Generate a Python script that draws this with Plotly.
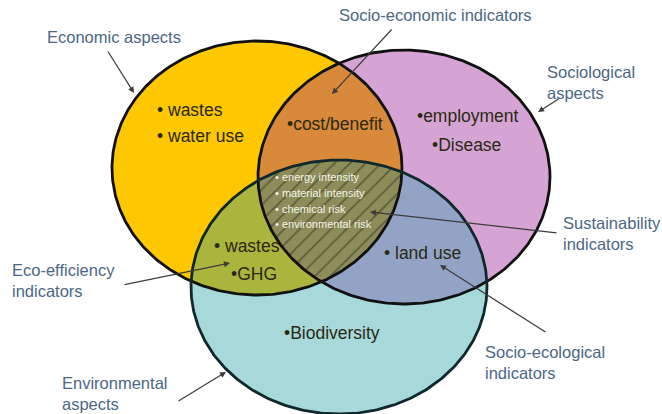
import numpy as np
import plotly.graph_objects as go

# ---- data ----
set_names = ["Economic aspects", "Sociological aspects", "Environmental aspects"]
set_cx = [257, 404, 339]
set_cy = [168, 177, 287]
set_rx = [145, 146, 148]
set_ry = [127, 127, 127]
set_colors = ["#FDC800", "#D6A4D4", "#A7D9DA"]

pair_names = ["Socio-economic", "Eco-efficiency", "Socio-ecological"]
pair_sets = [(0, 1), (0, 2), (1, 2)]
pair_colors = ["#D8893A", "#A9B53C", "#93A3C6"]
triple_color = "#8C8D5A"

region_items = [
    ("• wastes", 155, 110), ("• water use", 155, 136),
    ("•cost/benefit", 285, 124),
    ("•employment", 415, 116), ("•Disease", 430, 145),
    ("• wastes", 212, 246), ("•GHG", 229, 274),
    ("• land use", 382, 253),
    ("•Biodiversity", 282, 333),
]
core_items = ["• energy intensity", "• material intensity", "• chemical risk", "• environmental risk"]
core_x = 273
core_y = [177, 193, 209, 224]

labels = [
    ("Economic aspects", 45, 37),
    ("Socio-economic indicators", 337, 15),
    ("Sociological<br>aspects", 545, 82),
    ("Sustainability<br>indicators", 561, 233),
    ("Eco-efficiency<br>indicators", 10, 280),
    ("Socio-ecological<br>indicators", 483, 362),
    ("Environmental<br>aspects", 60, 393),
]
arrows = [  # (tail_x, tail_y, head_x, head_y)
    (107, 50, 134, 93),
    (393, 28, 332, 94),
    (560, 98, 538, 112),
    (558, 233, 370, 212),
    (123, 285, 230, 263),
    (547, 333, 440, 265),
    (177, 402, 226, 372),
]


def ellipse(i, n=400):
    t = np.linspace(0, 2 * np.pi, n)
    return set_cx[i] + set_rx[i] * np.cos(t), set_cy[i] + set_ry[i] * np.sin(t)


def intersection(idx, n=720):
    px = np.mean([set_cx[i] for i in idx])
    py = np.mean([set_cy[i] for i in idx])
    th = np.linspace(0, 2 * np.pi, n)
    dx, dy = np.cos(th), np.sin(th)
    tmin = np.full(n, np.inf)
    for i in idx:
        ox = (px - set_cx[i]) / set_rx[i]
        oy = (py - set_cy[i]) / set_ry[i]
        ux = dx / set_rx[i]
        uy = dy / set_ry[i]
        a = ux ** 2 + uy ** 2
        b = 2 * (ox * ux + oy * uy)
        c = ox ** 2 + oy ** 2 - 1
        t = (-b + np.sqrt(b ** 2 - 4 * a * c)) / (2 * a)
        tmin = np.minimum(tmin, t)
    return px + tmin * dx, py + tmin * dy


fig = go.Figure()

for i in range(3):
    x, y = ellipse(i)
    fig.add_trace(go.Scatter(x=x, y=y, fill="toself", fillcolor=set_colors[i],
                             line=dict(width=0), mode="lines", hoverinfo="skip",
                             name=set_names[i]))
for k, (a, b) in enumerate(pair_sets):
    x, y = intersection([a, b])
    fig.add_trace(go.Scatter(x=x, y=y, fill="toself", fillcolor=pair_colors[k],
                             line=dict(width=0), mode="lines", hoverinfo="skip",
                             name=pair_names[k]))
x, y = intersection([0, 1, 2])
fig.add_trace(go.Scatter(x=x, y=y, fill="toself", fillcolor=triple_color,
                         fillpattern=dict(shape="/", fgcolor="#2c2c16", bgcolor=triple_color,
                                          size=11, solidity=0.15),
                         line=dict(width=0), mode="lines", hoverinfo="skip",
                         name="Sustainability"))

outline_colors = ["#111111", "#111111", "#10282b"]
for i in range(3):
    x, y = ellipse(i)
    fig.add_trace(go.Scatter(x=x, y=y, mode="lines",
                             line=dict(color=outline_colors[i], width=2.8),
                             hoverinfo="skip"))

ann = []
font_lbl = "Liberation Sans, Arial, sans-serif"
for txt, x0, y0 in region_items:
    ann.append(dict(x=x0, y=y0, text=txt, showarrow=False, xanchor="left", yanchor="middle",
                    font=dict(family=font_lbl, size=17.5, color="#2a2912")))
for txt, y0 in zip(core_items, core_y):
    ann.append(dict(x=core_x, y=y0, text=txt, showarrow=False, xanchor="left", yanchor="middle",
                    font=dict(family=font_lbl, size=11, color="#f4f4ea")))
for txt, x0, y0 in labels:
    ann.append(dict(x=x0, y=y0, text=txt, showarrow=False, xanchor="left", yanchor="middle",
                    align="left", font=dict(family=font_lbl, size=16.5, color="#4B6784")))
for tx, ty, hx, hy in arrows:
    ann.append(dict(x=hx, y=hy, ax=tx, ay=ty, axref="x", ayref="y", xref="x", yref="y",
                    text="", showarrow=True, arrowhead=2, arrowsize=1, arrowwidth=1.2,
                    arrowcolor="#3c3c3c"))

fig.update_layout(
    width=662, height=414,
    margin=dict(l=0, r=0, t=0, b=0),
    paper_bgcolor="white", plot_bgcolor="white",
    showlegend=False,
    xaxis=dict(range=[0, 662], visible=False, fixedrange=True),
    yaxis=dict(range=[414, 0], visible=False, fixedrange=True),
    annotations=ann,
)

fig.write_html("out.html", config={"displayModeBar": False},
               post_script="document.body.style.margin='0';document.body.style.overflow='hidden';")
